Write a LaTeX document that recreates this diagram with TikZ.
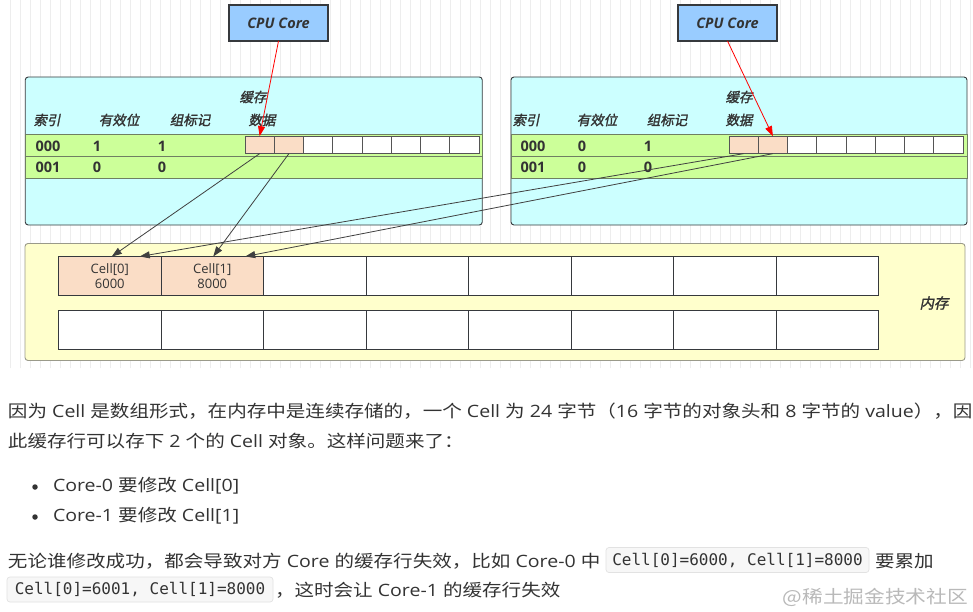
\documentclass[tikz,border=0pt]{standalone}
\usepackage{fontspec}
\usetikzlibrary{arrows.meta}
\setmainfont{Open Sans}
\newfontfamily\bodyfont{Open Sans}[FakeStretch=1.15]
\newfontfamily\zhbody{Noto Sans CJK SC}[FakeStretch=1.15]
\newfontfamily\cjkbi{Noto Sans CJK SC}[FakeSlant=0.2,FakeBold=1.6]
\newfontfamily\codefont{DejaVu Sans Mono}
\newcommand\zh[1]{{\zhbody #1}}
\definecolor{txt}{HTML}{333333}
\definecolor{cpu}{HTML}{99CCFF}
\definecolor{cachebg}{HTML}{CCFFFF}
\definecolor{rowbg}{HTML}{CCFF99}
\definecolor{rowedge}{HTML}{6F7F62}
\definecolor{peach}{HTML}{FADDC6}
\definecolor{membg}{HTML}{FFFFCC}
\definecolor{memedge}{HTML}{9A9A8A}
\definecolor{edge}{HTML}{36393D}
\definecolor{celledge}{HTML}{555555}
\definecolor{gridc}{HTML}{EDEDED}
\definecolor{codebg}{HTML}{F7F7F7}
\definecolor{codeedge}{HTML}{E2E2E2}
\definecolor{arr}{HTML}{404040}
\begin{document}
\begin{tikzpicture}[x=1pt,y=-1pt,
  every node/.style={inner sep=0pt, outer sep=0pt},
  cpubox/.style={draw=edge, line width=1.3pt, fill=cpu, minimum width=99pt, minimum height=36pt,
    font=\fontsize{14.5}{16}\selectfont\bfseries\itshape, text=txt},
  cachebox/.style={draw=edge, line width=0.9pt, fill=cachebg, rounded corners=3pt,
    minimum width=457pt, minimum height=148pt},
  rowbox/.style={draw=rowedge, line width=0.8pt, fill=rowbg, minimum width=457pt, minimum height=22pt},
  dcell/.style={draw=celledge, line width=0.7pt, minimum width=29.25pt, minimum height=17.5pt},
  membox/.style={draw=memedge, line width=0.9pt, fill=membg, rounded corners=3pt,
    minimum width=940pt, minimum height=117pt},
  mcell/.style={draw=edge, line width=0.6pt, minimum width=102.5pt, minimum height=39pt,
    align=center, font=\fontsize{13}{15}\selectfont, text=txt},
  hdr/.style={font={\fontsize{13.5}{15}\cjkbi}, text=txt},
  val/.style={font=\fontsize{14.5}{16}\selectfont\bfseries, text=txt},
  para/.style={anchor=west, font={\fontsize{17}{20}\bodyfont}, text=txt},
  bullet/.style={circle, fill=txt, minimum size=5.5pt},
  codebox/.style={draw=codeedge, line width=0.7pt, fill=codebg, rounded corners=3pt,
    minimum height=25pt, font={\fontsize{16}{18}\codefont}, text=txt},
  rarrow/.style={draw=red, line width=0.8pt, -{Triangle[length=10pt,width=7pt]}},
  garrow/.style={draw=arr, line width=0.8pt, -{Triangle[length=10pt,width=7pt]}}
]
\useasboundingbox (0,0) rectangle (973,612);
\fill[white] (0,0) rectangle (973,612);
\draw[gridc, line width=0.5pt, step=10] (8,0) grid (973,368);

% CPU cores
\node[cpubox] (cpu1) at (278.5,23) {CPU Core};
\node[cpubox] (cpu2) at (727.5,23) {CPU Core};

% cache 1
\node[cachebox] (cache1) at (253.75,151) {};
\node[rowbox] (r10) at (253.75,145) {};
\node[rowbox] (r11) at (253.75,167) {};
\node[hdr] (t1) at (253,97) {缓存};
\node[hdr] (h10) at (47,120) {索引};
\node[hdr] (h11) at (119,120) {有效位};
\node[hdr] (h12) at (190,120) {组标记};
\node[hdr] (h13) at (262,120) {数据};
\node[val] (v100) at (48,146) {000};
\node[val] (v101) at (97,146) {1};
\node[val] (v102) at (162,146) {1};
\node[val] (v110) at (48,167) {001};
\node[val] (v111) at (97,167) {0};
\node[val] (v112) at (162,167) {0};
\foreach \i/\f in {0/peach,1/peach,2/white,3/white,4/white,5/white,6/white,7/white}
  \node[dcell, fill=\f] (a\i) at ({259.625+29.25*\i},144.9) {};

% cache 2
\node[cachebox, minimum width=456pt] (cache2) at (739,151) {};
\node[rowbox, minimum width=456pt] (r20) at (739,145) {};
\node[rowbox, minimum width=456pt] (r21) at (739,167) {};
\node[hdr] (t2) at (739,97) {缓存};
\node[hdr] (h20) at (526,120) {索引};
\node[hdr] (h21) at (597,120) {有效位};
\node[hdr] (h22) at (667,120) {组标记};
\node[hdr] (h23) at (739,120) {数据};
\node[val] (v200) at (533,146) {000};
\node[val] (v201) at (582,146) {0};
\node[val] (v202) at (648,146) {1};
\node[val] (v210) at (533,167) {001};
\node[val] (v211) at (582,167) {0};
\node[val] (v212) at (648,167) {0};
\foreach \i/\f in {0/peach,1/peach,2/white,3/white,4/white,5/white,6/white,7/white}
  \node[dcell, fill=\f] (b\i) at ({743.625+29.25*\i},144.9) {};

% memory
\node[membox] (mem) at (495,302) {};
\node[mcell, fill=peach] (m0) at (109.75,276) {Cell[0]\\6000};
\node[mcell, fill=peach] (m1) at (212.25,276) {Cell[1]\\8000};
\foreach \i in {2,...,7}
  \node[mcell, fill=white] (m\i) at ({109.75+102.5*\i},276) {};
\foreach \i in {0,...,7}
  \node[mcell, fill=white] (n\i) at ({109.75+102.5*\i},330) {};
\node[hdr, font={\fontsize{14.5}{16}\cjkbi}] (memlbl) at (934,303) {内存};

% connectors
\draw[rarrow] (cpu1.south) -- (a0.north);
\draw[rarrow] (cpu2.south) -- (b1.north);
\draw[garrow] (a0.south) -- ([xshift=2pt]m0.north);
\draw[garrow] (a1.south) -- ([xshift=1pt]m1.north);
\draw[garrow] (b0.south) -- ([xshift=30pt]m0.north);
\draw[garrow] (b1.south) -- ([xshift=33pt]m1.north);

% text below
\node[para] (p1) at (8,411) {\zh{因为} Cell \zh{是数组形式，在内存中是连续存储的，一个} Cell \zh{为} 24 \zh{字节（}16 \zh{字节的对象头和} 8 \zh{字节的} value\zh{），因}};
\node[para] (p2) at (8,441) {\zh{此缓存行可以存下} 2 \zh{个的} Cell \zh{对象。这样问题来了：}};
\node[bullet] (b1dot) at (35,487) {};
\node[para] (l1) at (53,486) {Core-0 \zh{要修改} Cell[0]};
\node[bullet] (b2dot) at (35,517) {};
\node[para] (l2) at (53,516) {Core-1 \zh{要修改} Cell[1]};
\node[para] (p3) at (8,561) {\zh{无论谁修改成功，都会导致对方} Core \zh{的缓存行失效，比如} Core-0 \zh{中}};
\node[codebox, minimum width=263pt] (k1) at (737.5,560) {Cell[0]=6000, Cell[1]=8000};
\node[para] (p3b) at (875,561) {\zh{要累加}};
\node[codebox, minimum width=266pt] (k2) at (140,589.5) {Cell[0]=6001, Cell[1]=8000};
\node[para] (p4) at (275,590) {\zh{，这时会让} Core-1 \zh{的缓存行失效}};
\node[anchor=east, font={\fontsize{18}{20}\zhbody}, text=gray!55] (wm) at (968,597) {@稀土掘金技术社区};
\end{tikzpicture}
\end{document}
